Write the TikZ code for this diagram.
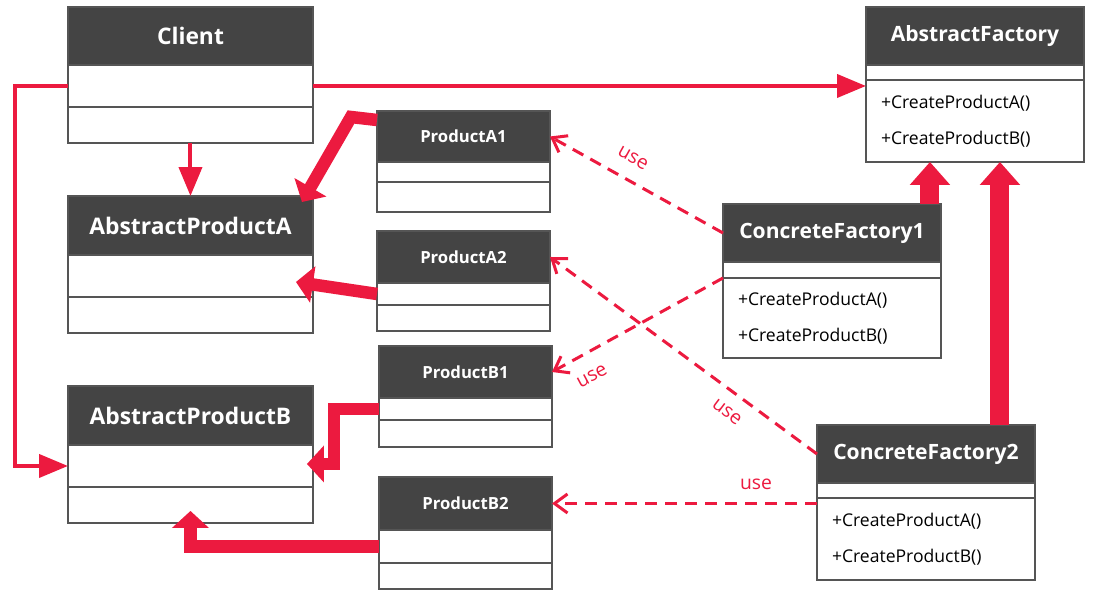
\documentclass[tikz,border=0pt]{standalone}
\usepackage{fontspec}
\setmainfont{Open Sans}
\usetikzlibrary{arrows.meta, positioning, calc}

\definecolor{afred}{HTML}{EC1A3F}
\definecolor{hdrgray}{HTML}{444444}
\definecolor{boxline}{HTML}{555555}

\tikzset{
  hdr/.style={draw=boxline, fill=hdrgray, text=white, line width=0.03cm, inner sep=0pt, outer sep=0pt, font=\bfseries\fontsize{12}{14}\selectfont},
  bighdr/.style={hdr, font=\bfseries\fontsize{13}{15}\selectfont},
  smallhdr/.style={hdr, font=\bfseries\fontsize{9.5}{11}\selectfont},
  slot/.style={draw=boxline, fill=white, line width=0.03cm, inner sep=0pt, outer sep=0pt},
  mslot/.style={slot, align=left, text width=3.76cm, inner xsep=0.3cm, font=\fontsize{10}{20.4}\selectfont},
  big/.style={minimum width=4.9cm},
  prod/.style={minimum width=3.46cm},
  fact/.style={minimum width=4.36cm},
  thinarr/.style={draw=afred, line width=0.08cm, -{Triangle[length=0.58cm, width=0.46cm]}},
  fatarr/.style={draw=afred, line width=0.25cm, -{Triangle[length=0.34cm, width=0.72cm]}},
  hugearr/.style={draw=afred, line width=0.38cm, -{Triangle[length=0.46cm, width=0.78cm]}},
  usearr/.style={draw=afred, line width=0.06cm, dash pattern=on 0.24cm off 0.16cm, -{Straight Barb[length=0.26cm, width=0.38cm]}},
  uselbl/.style={text=afred, font=\fontsize{11}{13}\selectfont, inner sep=1pt}
}

\begin{document}
\begin{tikzpicture}[x=0.02cm, y=-0.02cm]
\useasboundingbox (0,0) rectangle (1093,591);

% left column
\node (cl) [bighdr, big, minimum height=1.16cm, anchor=north west] at (68,7) {Client};
\node (cl1) [slot, big, minimum height=0.84cm, below=0pt of cl] {};
\node (cl2) [slot, big, minimum height=0.72cm, below=0pt of cl1] {};

\node (apa) [bighdr, big, minimum height=1.18cm, anchor=north west] at (68,196) {AbstractProductA};
\node (apa1) [slot, big, minimum height=0.84cm, below=0pt of apa] {};
\node (apa2) [slot, big, minimum height=0.72cm, below=0pt of apa1] {};

\node (apb) [bighdr, big, minimum height=1.18cm, anchor=north west] at (68,386) {AbstractProductB};
\node (apb1) [slot, big, minimum height=0.84cm, below=0pt of apb] {};
\node (apb2) [slot, big, minimum height=0.72cm, below=0pt of apb1] {};

% products
\node (pa1) [smallhdr, prod, minimum height=1.02cm, anchor=north west] at (377,111) {ProductA1};
\node (pa1a) [slot, prod, minimum height=0.4cm, below=0pt of pa1] {};
\node (pa1b) [slot, prod, minimum height=0.6cm, below=0pt of pa1a] {};

\node (pa2) [smallhdr, prod, minimum height=1.04cm, anchor=north west] at (377,231) {ProductA2};
\node (pa2a) [slot, prod, minimum height=0.44cm, below=0pt of pa2] {};
\node (pa2b) [slot, prod, minimum height=0.52cm, below=0pt of pa2a] {};

\node (pb1) [smallhdr, prod, minimum height=1.04cm, anchor=north west] at (379,346) {ProductB1};
\node (pb1a) [slot, prod, minimum height=0.44cm, below=0pt of pb1] {};
\node (pb1b) [slot, prod, minimum height=0.54cm, below=0pt of pb1a] {};

\node (pb2) [smallhdr, prod, minimum height=1.06cm, anchor=north west] at (379,477) {ProductB2};
\node (pb2a) [slot, prod, minimum height=0.66cm, below=0pt of pb2] {};
\node (pb2b) [slot, prod, minimum height=0.52cm, below=0pt of pb2a] {};

% factories
\node (af) [hdr, fact, minimum height=1.16cm, anchor=north west] at (866,7) {AbstractFactory};
\node (afs) [slot, fact, minimum height=0.3cm, below=0pt of af] {};
\node (afm) [mslot, minimum height=1.64cm, below=0pt of afs] {+CreateProductA()\\+CreateProductB()};

\node (cf1) [hdr, fact, minimum height=1.16cm, anchor=north west] at (723,204) {ConcreteFactory1};
\node (cf1s) [slot, fact, minimum height=0.32cm, below=0pt of cf1] {};
\node (cf1m) [mslot, minimum height=1.6cm, below=0pt of cf1s] {+CreateProductA()\\+CreateProductB()};

\node (cf2) [hdr, fact, minimum height=1.16cm, anchor=north west] at (817,425) {ConcreteFactory2};
\node (cf2s) [slot, fact, minimum height=0.3cm, below=0pt of cf2] {};
\node (cf2m) [mslot, minimum height=1.64cm, below=0pt of cf2s] {+CreateProductA()\\+CreateProductB()};

% client links
\coordinate (leftrail) at (15,0);
\draw[thinarr] (cl1.west) -- (cl1.west -| leftrail) |- (apb1.west);
\draw[thinarr] (cl1.east) -- (cl1.east -| af.west);
\draw[thinarr] (cl2.south) -- (apa.north);

% inheritance of products
\draw[fatarr] ($(pa1.north west)+(0,9)$) -- ++(-26,-3) -- ($(apa.north east)+(-11,6)$);
\draw[fatarr] (pa2a.west) -- ($(apa1.east)+(-17,6)$);
\draw[fatarr] (pb1a.west) -- ++(-45,0) |- ($(apb1.east)+(-6,-2)$);
\draw[fatarr] (pb2a.west) -| ($(apb2.south)+(0,-12)$);

% inheritance of factories
\coordinate (cf1top) at ($(cf1.north east)+(-11,0)$);
\coordinate (cf2top) at ($(cf2.north east)+(-35,0)$);
\draw[hugearr] (cf1top) -- (cf1top |- afm.south);
\draw[hugearr] (cf2top) -- (cf2top |- afm.south);

% use links
\draw[usearr] (cf1.west) -- (pa1.east);
\draw[usearr] (cf1m.north west) -- (pb1.east);
\draw[usearr] (cf2.west) -- (pa2.east);
\draw[usearr] (pb2.east -| cf2m.west) -- (pb2.east);

\node (use1) [uselbl, rotate=-29] at (633,158) {use};
\node (use2) [uselbl, rotate=28] at (592,376) {use};
\node (use3) [uselbl, rotate=-37] at (727,412) {use};
\node (use4) [uselbl] at (756,484) {use};
\end{tikzpicture}
\end{document}
